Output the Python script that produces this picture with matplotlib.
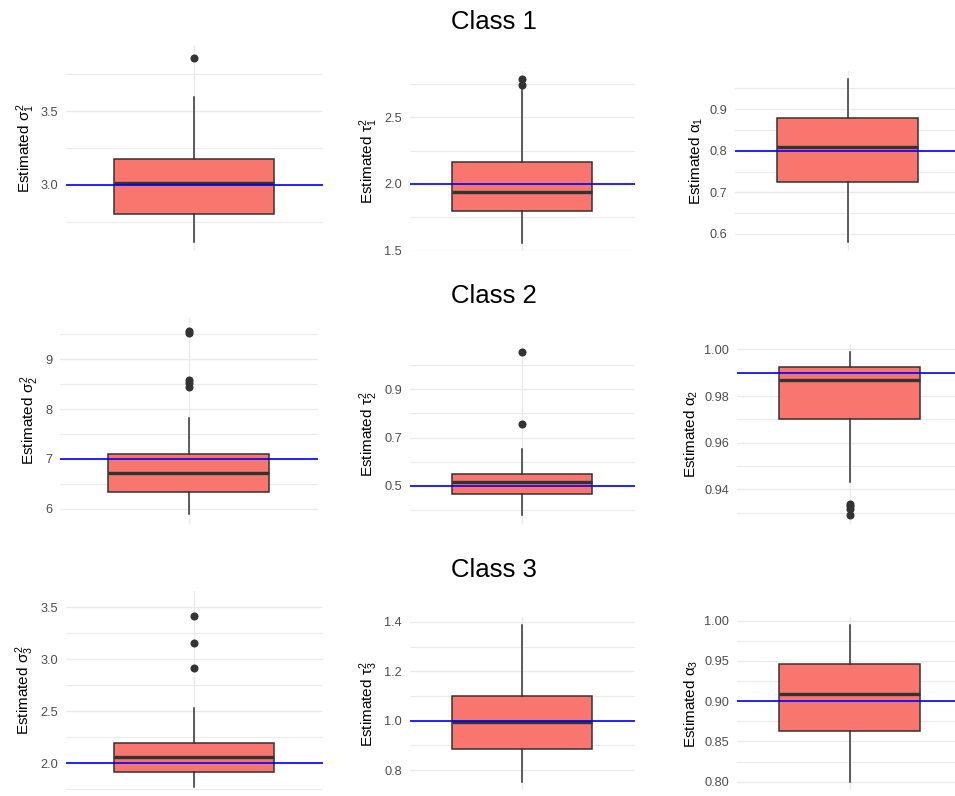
import matplotlib
matplotlib.use("Agg")
import matplotlib.pyplot as plt
import numpy as np

plt.rcParams['font.family'] = ['Liberation Sans', 'DejaVu Sans']
plt.rcParams['mathtext.fontset'] = 'custom'
plt.rcParams['mathtext.rm'] = 'Liberation Sans'
plt.rcParams['mathtext.it'] = 'Liberation Sans'
plt.rcParams['mathtext.bf'] = 'Liberation Sans:bold'

# ---------------- data (row-major: class 1..3, params sigma^2, tau^2, alpha)
class_titles = ["Class 1", "Class 2", "Class 3"]
ylabels = [r"Estimated $\sigma_1^2$", r"Estimated $\tau_1^2$", r"Estimated $\alpha_1$",
           r"Estimated $\sigma_2^2$", r"Estimated $\tau_2^2$", r"Estimated $\alpha_2$",
           r"Estimated $\sigma_3^2$", r"Estimated $\tau_3^2$", r"Estimated $\alpha_3$"]
medians = [3.011, 1.938, 0.808, 6.726, 0.514, 0.9867, 2.058, 0.993, 0.9085]
q1s = [2.802, 1.797, 0.7255, 6.34, 0.466, 0.9701, 1.916, 0.886, 0.8634]
q3s = [3.179, 2.167, 0.878, 7.092, 0.551, 0.99234, 2.196, 1.0998, 0.9459]
whisker_lo = [2.613, 1.560, 0.5805, 5.90, 0.378, 0.9433, 1.766, 0.751, 0.7994]
whisker_hi = [3.597, 2.718, 0.972, 7.82, 0.651, 0.9988, 2.527, 1.388, 0.9946]
outliers = [[3.861], [2.740, 2.788], [], [8.45, 8.53, 8.58, 9.53, 9.56],
            [0.757, 1.054], [0.9289, 0.9318, 0.9328, 0.9339],
            [2.913, 3.154, 3.419], [], []]
true_values = [3.0, 2.0, 0.8, 7.0, 0.5, 0.99, 2.0, 1.0, 0.9]

tick_values = [[3.0, 3.5], [1.5, 2.0, 2.5], [0.6, 0.7, 0.8, 0.9],
               [6, 7, 8, 9], [0.5, 0.7, 0.9], [0.94, 0.96, 0.98, 1.00],
               [2.0, 2.5, 3.0, 3.5], [0.8, 1.0, 1.2, 1.4], [0.80, 0.85, 0.90, 0.95, 1.00]]
tick_labels = [["3.0", "3.5"], ["1.5", "2.0", "2.5"], ["0.6", "0.7", "0.8", "0.9"],
               ["6", "7", "8", "9"], ["0.5", "0.7", "0.9"], ["0.94", "0.96", "0.98", "1.00"],
               ["2.0", "2.5", "3.0", "3.5"], ["0.8", "1.0", "1.2", "1.4"],
               ["0.80", "0.85", "0.90", "0.95", "1.00"]]

# ---------------- layout (pixels)
W, H = 955, 796
ylims = [(2.552, 3.950), (1.497, 2.848), (0.559, 0.992),
         (5.706, 9.826), (0.344, 1.088), (0.9254, 1.0023),
         (1.740, 3.657), (0.719, 1.420), (0.7896, 1.0045)]
boxes_px = [(66, 322.5, 45, 251), (409.5, 634.5, 71, 251), (735, 960, 71, 251),
            (60, 317.6, 318, 523.5), (409.5, 634.5, 344, 523.5), (737, 962, 344, 523.5),
            (66, 322.5, 591, 790), (409.5, 634.5, 617, 790), (737, 962, 617, 790)]
title_y_px = [22, 296, 570]
title_x_px = 494

FILL = "#F8766D"
DARK = "#333333"
GRID = "#EBEBEB"

fig = plt.figure(figsize=(W / 100, H / 100), dpi=100)
fig.patch.set_facecolor("white")

for i in range(9):
    x0, x1, y0, y1 = boxes_px[i]
    ax = fig.add_axes([x0 / W, 1 - y1 / H, (x1 - x0) / W, (y1 - y0) / H])
    stats = [dict(med=medians[i], q1=q1s[i], q3=q3s[i],
                  whislo=whisker_lo[i], whishi=whisker_hi[i],
                  fliers=outliers[i])]
    ax.bxp(stats, positions=[1], widths=0.75, patch_artist=True, showcaps=False,
           boxprops=dict(facecolor=FILL, edgecolor=DARK, linewidth=1.1),
           whiskerprops=dict(color=DARK, linewidth=1.1),
           medianprops=dict(color=DARK, linewidth=2.4),
           flierprops=dict(marker='o', markerfacecolor=DARK, markeredgecolor=DARK,
                           markersize=4.8, linestyle='none'),
           zorder=3)
    ax.axhline(true_values[i], color="blue", linewidth=1.2, zorder=4)

    ax.set_xlim(0.4, 1.6)
    ax.set_ylim(*ylims[i])
    ax.set_xticks([1])
    ax.set_xticklabels([])
    tv = tick_values[i]
    ax.set_yticks(tv)
    ax.set_yticklabels(tick_labels[i])
    step = tv[1] - tv[0]
    minors = [tv[0] - step / 2] + [(a + b) / 2 for a, b in zip(tv[:-1], tv[1:])] + [tv[-1] + step / 2]
    minors = [m for m in minors if ylims[i][0] <= m <= ylims[i][1]]
    ax.set_yticks(minors, minor=True)
    ax.grid(True, which='major', axis='both', color=GRID, linewidth=1.0, zorder=0)
    ax.grid(True, which='minor', axis='y', color=GRID, linewidth=0.8, zorder=0)
    ax.set_axisbelow(True)
    ax.tick_params(axis='both', which='both', length=0)
    ax.tick_params(axis='y', labelsize=9.2, labelcolor="#4D4D4D", pad=5.5)
    for s in ax.spines.values():
        s.set_visible(False)
    ax.set_facecolor("white")
    ax.set_ylabel(ylabels[i], fontsize=11, color="black", labelpad=3)

for r in range(3):
    fig.text(title_x_px / W, 1 - title_y_px[r] / H, class_titles[r],
             ha='center', va='center', fontsize=18.5, color="black")

fig.savefig("out.png", dpi=100, facecolor="white")
